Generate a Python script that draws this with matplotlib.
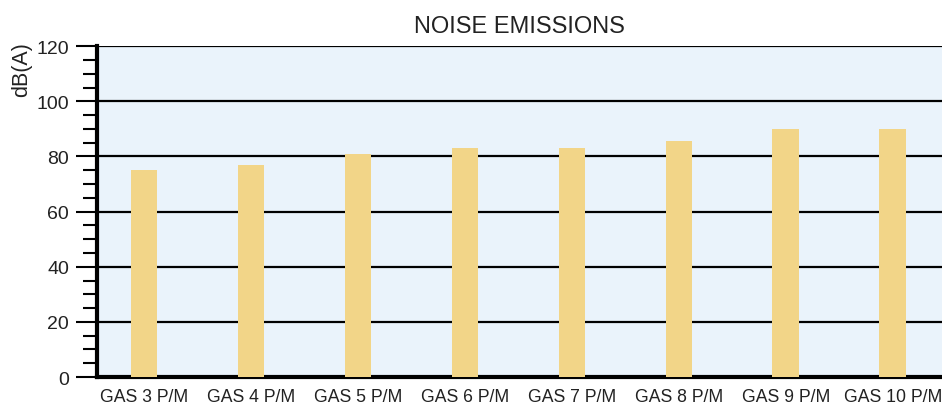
import matplotlib
matplotlib.use("Agg")
import matplotlib.pyplot as plt
from matplotlib.ticker import MultipleLocator

# noise level per generator model
models = ["GAS 3 P/M", "GAS 4 P/M", "GAS 5 P/M", "GAS 6 P/M",
          "GAS 7 P/M", "GAS 8 P/M", "GAS 9 P/M", "GAS 10 P/M"]
noise_db = [75, 77, 81, 83, 83, 85.5, 90, 90]
y_ticks = [0, 20, 40, 60, 80, 100, 120]

plt.rcParams["font.family"] = ["Liberation Sans", "DejaVu Sans"]

fig = plt.figure(figsize=(9.42, 4.10), dpi=100)
ax = fig.add_axes([0.103, 0.078, 0.897, 0.807])
ax.set_facecolor("#eaf3fb")

x = range(len(models))
ax.bar(x, noise_db, width=0.25, color="#f2d588", zorder=3)

ax.set_ylim(0, 120)
ax.set_xlim(-0.44, 7.46)
ax.set_yticks(y_ticks)
ax.yaxis.set_minor_locator(MultipleLocator(5))
ax.grid(axis="y", color="black", linewidth=1.6, zorder=1)

ax.set_xticks(list(x))
ax.set_xticklabels(models, fontsize=12.7, color="#222222")
ax.tick_params(axis="x", length=0, pad=8)
ax.tick_params(axis="y", which="major", length=15, width=1.5, labelsize=14, pad=5,
               labelcolor="#222222")
ax.tick_params(axis="y", which="minor", length=10, width=1.5)

for side in ["top", "right"]:
    ax.spines[side].set_visible(False)
ax.spines["left"].set_linewidth(3)
ax.spines["bottom"].set_linewidth(3)

ax.set_title("NOISE EMISSIONS", fontsize=17, pad=10, color="#222222")
fig.text(22 / 942, 1 - 70 / 410, "dB(A)", rotation=90, fontsize=15.5,
         ha="center", va="center", color="#222222")

fig.savefig("out.png", dpi=100)
